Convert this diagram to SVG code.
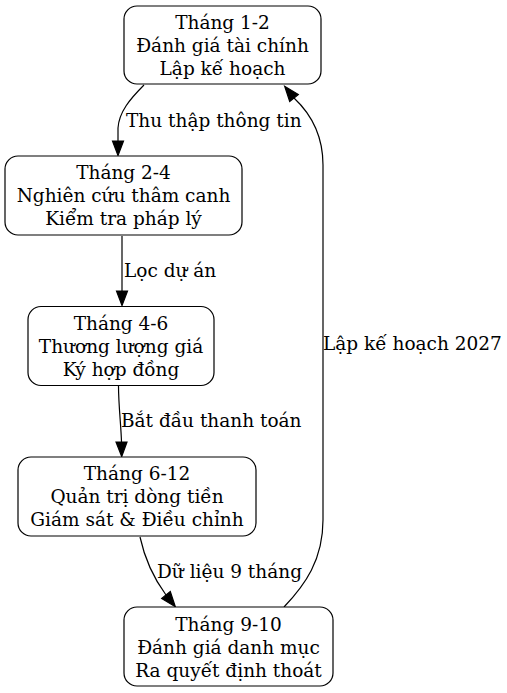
<svg xmlns="http://www.w3.org/2000/svg" width="507" height="693" viewBox="0 0 507 693">
<style>
.box{fill:#fff;stroke:#000;stroke-width:1.2}
.t{font-family:"DejaVu Serif",serif;font-size:18.5px;fill:#000}
.n{text-anchor:middle}
.e{fill:none;stroke:#000;stroke-width:1.2}
.ah{fill:#000;stroke:#000;stroke-width:1.2}
</style>
<rect width="507" height="693" fill="#fff"/>
<g id="connectors">
<path class="e" d="M144,85 C130,99 119,112 118,128 L118,142"/>
<polygon class="ah" points="112.5,141 118,155.5 123.5,141"/>
<text class="t" x="126" y="127">Thu thập thông tin</text>
<path class="e" d="M122,236 L122,291"/>
<polygon class="ah" points="116.5,291 122,305.5 127.5,291"/>
<text class="t" x="124" y="277">Lọc dự án</text>
<path class="e" d="M118.5,386 C118.5,405 121,425 121.5,442"/>
<polygon class="ah" points="116,442 121.7,456.5 127,442"/>
<text class="t" x="121" y="427">Bắt đầu thanh toán</text>
<path class="e" d="M140,537 C145,560 155,580 166,595"/>
<polygon class="ah" points="161.7,598.4 175.3,606.7 170.3,591.6"/>
<text class="t" x="157" y="578">Dữ liệu 9 tháng</text>
<path class="e" d="M284,607 C305,585 323,560 323,520 L323,165 C323,135 310,113 294,98"/>
<polygon class="ah" points="298.3,94.6 284.7,86.3 289.7,101.4"/>
<text class="t" x="323" y="350">Lập kế hoạch 2027</text>
</g>
<g id="n1">
<rect class="box" x="124" y="6" width="197" height="78" rx="13"/>
<text class="t n" x="222.5" y="28.5">Tháng 1-2</text>
<text class="t n" x="222.5" y="51.5">Đánh giá tài chính</text>
<text class="t n" x="222.5" y="74.5">Lập kế hoạch</text>
</g>
<g id="n2">
<rect class="box" x="5" y="156" width="237" height="79" rx="13"/>
<text class="t n" x="123.5" y="179">Tháng 2-4</text>
<text class="t n" x="123.5" y="202">Nghiên cứu thâm canh</text>
<text class="t n" x="123.5" y="225">Kiểm tra pháp lý</text>
</g>
<g id="n3">
<rect class="box" x="28" y="306.5" width="186" height="79" rx="13"/>
<text class="t n" x="121" y="330">Tháng 4-6</text>
<text class="t n" x="121" y="352.5">Thương lượng giá</text>
<text class="t n" x="121" y="375.5">Ký hợp đồng</text>
</g>
<g id="n4">
<rect class="box" x="18" y="457" width="238" height="79" rx="13"/>
<text class="t n" x="137" y="480">Tháng 6-12</text>
<text class="t n" x="137" y="503">Quản trị dòng tiền</text>
<text class="t n" x="137" y="526">Giám sát &amp; Điều chỉnh</text>
</g>
<g id="n5">
<rect class="box" x="124" y="607" width="209" height="79" rx="13"/>
<text class="t n" x="228.5" y="631">Tháng 9-10</text>
<text class="t n" x="228.5" y="654">Đánh giá danh mục</text>
<text class="t n" x="228.5" y="677">Ra quyết định thoát</text>
</g>
</svg>
